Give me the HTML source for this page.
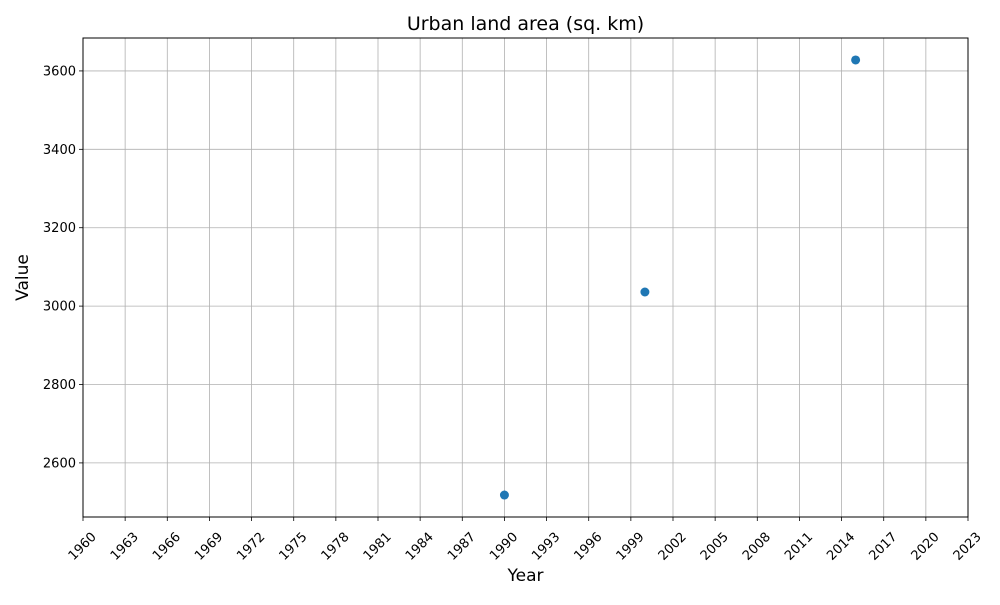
<!DOCTYPE html>
<html><head><meta charset="utf-8"><style>
body{margin:0;background:#fff;}
svg{font-family:"DejaVu Sans","Liberation Sans",sans-serif;}
</style></head><body>
<svg id="chart" width="1000" height="600"></svg>
<script>
const years=[1990,2000,2015];
const values=[2518,3036,3628];
const xTicks=[1960,1963,1966,1969,1972,1975,1978,1981,1984,1987,1990,1993,1996,1999,2002,2005,2008,2011,2014,2017,2020,2023];
const yTicks=[2600,2800,3000,3200,3400,3600];
const L=83,R=968,T=38,B=517;
const xMin=1960,xMax=2023,yMin=2462,yMax=3684;
const X=v=>L+(v-xMin)/(xMax-xMin)*(R-L);
const Y=v=>B-(v-yMin)/(yMax-yMin)*(B-T);
const svg=document.getElementById('chart');
const NS='http://www.w3.org/2000/svg';
function mk(tag,attrs,parent){const e=document.createElementNS(NS,tag);for(const k in attrs)e.setAttribute(k,attrs[k]);(parent||svg).appendChild(e);return e;}
xTicks.forEach(t=>{
 const g=mk('g',{});
 
 
 mk('line',{x1:X(t),x2:X(t),y1:T,y2:B,stroke:'#b0b0b0','stroke-width':0.8},g);
 mk('line',{x1:X(t),x2:X(t),y1:B,y2:B+4,stroke:'#000','stroke-width':0.8},g);
 const cx=X(t)-1,cy=B+29;
 const tx=mk('text',{x:cx,y:cy+4.5,'font-size':13,'text-anchor':'middle',transform:`rotate(-45 ${cx} ${cy})`},g);
 tx.textContent=t;
});
yTicks.forEach(t=>{
 const g=mk('g',{});
 
 
 mk('line',{x1:L,x2:R,y1:Y(t),y2:Y(t),stroke:'#b0b0b0','stroke-width':0.8},g);
 mk('line',{x1:L-4,x2:L,y1:Y(t),y2:Y(t),stroke:'#000','stroke-width':0.8},g);
 const tx=mk('text',{x:L-7,y:Y(t)+4.5,'font-size':13,'text-anchor':'end'},g);
 tx.textContent=t;
});
const frame=mk('rect',{x:L,y:T,width:R-L,height:B-T,fill:'none',stroke:'#000','stroke-width':1});


years.forEach((yr,i)=>{
 const c=mk('circle',{cx:X(yr),cy:Y(values[i]),r:4.5,fill:'#1f77b4'});
 
 
});
const title=mk('text',{x:(L+R)/2,y:30,'font-size':19,'text-anchor':'middle'});
title.textContent='Urban land area (sq. km)';


const xt=mk('text',{x:(L+R)/2,y:581,'font-size':17,'text-anchor':'middle'});
xt.textContent='Year';


const yt=mk('text',{x:28,y:(T+B)/2,'font-size':17,'text-anchor':'middle',transform:`rotate(-90 28 ${(T+B)/2})`});
yt.textContent='Value';


</script>
</body></html>
